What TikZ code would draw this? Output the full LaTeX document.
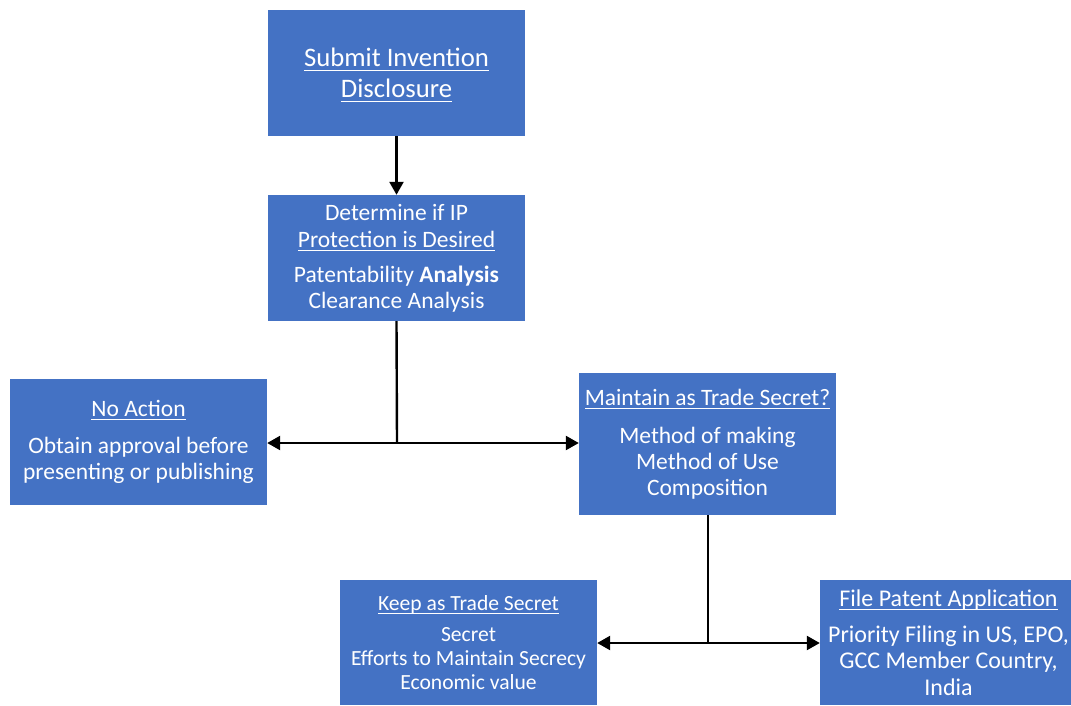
\documentclass[tikz,border=0pt]{standalone}
\usepackage{fontspec}
\setmainfont{Carlito}
\usetikzlibrary{arrows.meta}
\definecolor{boxblue}{HTML}{4472C4}
\newcommand{\ulx}[1]{\setbox0\hbox{#1}\leavevmode\rlap{\raisebox{-0.16em}{\rule{\wd0}{1.1pt}}}\box0}
\tikzset{
  box/.style={fill=boxblue, draw=none, text=white, align=center,
    minimum width=257pt, inner sep=0pt, anchor=center},
  arr/.style={line width=2.4pt, -{Triangle[length=13pt,width=14pt]}},
  ln/.style={line width=2.4pt}
}
\newcommand{\fs}[2]{\fontsize{#1}{#2}\selectfont}
\begin{document}
\begin{tikzpicture}[x=1pt,y=-1pt]
\useasboundingbox (0,0) rectangle (1071,706);
\fill[white] (0,0) rectangle (1071,706);
\node[box, minimum height=126pt, font=\fs{26.7}{30.5}] (b1) at (396.5,73) {};
\node[text=white, align=center, font=\fs{26.7}{30.5}, inner sep=0pt] (t1) at (396.5,75)
  {\ulx{Submit Invention}\\\ulx{Disclosure}};
\node[box, minimum height=126pt, font=\fs{23.5}{27}] (b2) at (396.5,258)
  {Determine if IP\\\ulx{Protection is Desired}\\[8pt]
   Patentability \textbf{Analysis}\\[-1pt]Clearance Analysis};
\node[box, minimum height=126pt, font=\fs{23.5}{26.5}] (b3) at (138.5,442)
  {\ulx{No Action}\\[10pt]Obtain approval before\\presenting or publishing};
\node[box, minimum height=142pt, font=\fs{23.5}{26}] (b4) at (707.5,444)
  {\ulx{Maintain as Trade Secret?}\\[12pt]Method of making\\Method of Use\\Composition};
\node[box, minimum height=125pt, font=\fs{21.6}{23.8}] (b5) at (468.5,642.5)
  {\ulx{Keep as Trade Secret}\\[7pt]Secret\\Efforts to Maintain Secrecy\\Economic value};
\node[box, minimum height=125pt, font=\fs{24}{26.5}] (b6) at (948.5,642.5)
  {\ulx{File Patent Application}\\[9pt]Priority Filing in US, EPO,\\GCC Member Country,\\India};
\coordinate (j1) at (397,443);
\coordinate (j2) at (708,643);
\draw[arr] (b1.south) -- (b2.north);
\draw[ln] (b2.south) -- (j1);
\draw[arr] (j1) -- (b3.east |- j1);
\draw[arr] (j1) -- (b4.west |- j1);
\draw[ln] (b4.south -| j2) -- (j2);
\draw[arr] (j2) -- (b5.east |- j2);
\draw[arr] (j2) -- (b6.west |- j2);
\end{tikzpicture}
\end{document}
